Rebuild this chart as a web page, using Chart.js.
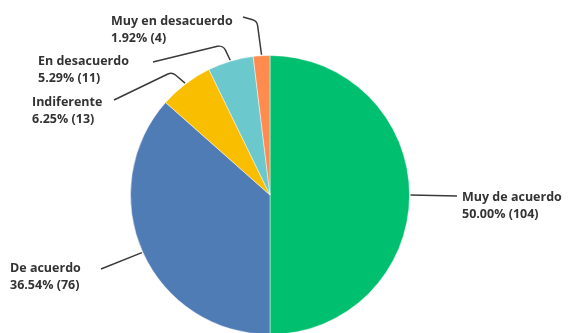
<!DOCTYPE html>
<html>
<head>
<meta charset="utf-8">
<script src="https://cdn.jsdelivr.net/npm/chart.js@4"></script>
<style>
  html, body { margin:0; padding:0; background:#fff; overflow:hidden; width:571px; height:333px; }
  #c { display:block; }
</style>
</head>
<body>
<canvas id="c" width="571" height="336"></canvas>
<script>
// ---- data ----
const categories = ["Muy de acuerdo", "De acuerdo", "Indiferente", "En desacuerdo", "Muy en desacuerdo"];
const counts = [104, 76, 13, 11, 4];
const colors = ["#00BF6F", "#507CB6", "#F9BE00", "#6BC8CD", "#FF8B4F"];

// ---- label layout (text anchor, line start, elbow) ----
const labelLayout = [
  { tx: 462, ty: 197, lx: 457, ly: 196, ex: null, ey: null, align: "left" },
  { tx: 10,  ty: 268, lx: 101, ly: 269, ex: null, ey: null, align: "left" },
  { tx: 32,  ty: 102, lx: 114, ly: 100, ex: 172, ey: 72, align: "left" },
  { tx: 38,  ty: 61,  lx: 153, ly: 62,  ex: 223, ey: 45, align: "left" },
  { tx: 111, ty: 21,  lx: 243, ly: 17,  ex: 257, ey: 21, align: "left" }
];

const total = counts.reduce((a, b) => a + b, 0);
const labelLines = counts.map((v, i) => [categories[i], (v / total * 100).toFixed(2) + "% (" + v + ")"]);

const calloutPlugin = {
  id: "callouts",
  afterDraw(chart) {
    const ctx = chart.ctx;
    const meta = chart.getDatasetMeta(0);
    ctx.save();
    meta.data.forEach((arc, i) => {
      const p = arc.getProps(["x", "y", "startAngle", "endAngle", "outerRadius"], true);
      const mid = (p.startAngle + p.endAngle) / 2;
      const ax = p.x + Math.cos(mid) * (p.outerRadius + 1);
      const ay = p.y + Math.sin(mid) * (p.outerRadius + 1);
      const L = labelLayout[i];
      ctx.strokeStyle = "#3a3a3a";
      ctx.lineWidth = 1.5;
      ctx.beginPath();
      ctx.moveTo(L.lx, L.ly);
      if (L.ex !== null) {
        ctx.arcTo(L.ex, L.ey, ax, ay, 7);
      }
      ctx.lineTo(ax, ay);
      ctx.stroke();
      ctx.fillStyle = "#333333";
      ctx.font = "bold 12.5px 'Open Sans', sans-serif";
      ctx.textAlign = L.align;
      ctx.textBaseline = "middle";
      labelLines[i].forEach((t, k) => ctx.fillText(t, L.tx, L.ty + k * 17));
    });
    ctx.restore();
  }
};

new Chart(document.getElementById("c"), {
  type: "pie",
  data: {
    labels: categories,
    datasets: [{
      data: counts,
      backgroundColor: colors,
      borderColor: "rgba(255,255,255,0.45)",
      borderWidth: 1
    }]
  },
  options: {
    responsive: false,
    animation: false,
    layout: { padding: { top: 55, bottom: 1, left: 130, right: 161 } },
    plugins: { legend: { display: false }, tooltip: { enabled: false } }
  },
  plugins: [calloutPlugin]
});
</script>
</body>
</html>
